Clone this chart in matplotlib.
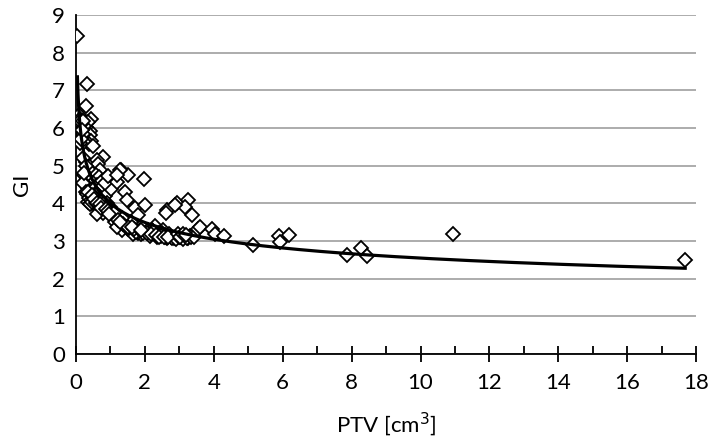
import numpy as np
import matplotlib
matplotlib.use("Agg")
from matplotlib import pyplot as plt
from matplotlib.ticker import MultipleLocator

# PTV [cm3] vs GI
ptv = [0.045, 0.32, 0.29, 0.44, 0.09, 0.41, 0.79, 0.12, 0.13,
       0.15, 0.20, 0.25, 0.30, 0.35, 0.22, 0.28, 0.18, 0.12, 0.33, 0.40, 0.45, 0.38, 0.25, 0.50, 0.14,
       0.10, 0.11, 0.13, 0.16, 0.19, 0.11, 0.14, 0.17, 0.21, 0.24,
       0.30, 0.42, 0.55, 0.60, 0.65, 0.70, 0.35, 0.48, 0.58, 0.68, 0.25, 0.32, 0.40, 0.50, 0.62, 0.75,
       0.28, 0.36, 0.45, 0.55, 0.66, 0.22, 0.80,
       0.30, 0.40, 0.50, 0.60, 0.70, 0.85, 0.35, 0.45, 0.55, 0.65, 0.75, 0.90, 0.95, 0.80, 0.60, 0.41, 1.00,
       0.15, 0.12, 0.14, 0.22, 0.28, 0.25, 0.20, 0.17,
       0.32, 0.38, 0.44, 0.48, 0.52, 0.57, 0.63, 0.67, 0.72, 0.78, 0.82, 0.88, 0.36, 0.46, 0.54, 0.61,
       0.69, 0.74, 0.86, 0.92,
       1.05, 1.10, 1.20, 1.15, 1.30, 1.25, 1.40, 1.35, 1.50, 1.18, 1.60, 1.70, 1.65, 1.80, 1.90,
       1.03, 1.42, 1.47, 1.71, 1.81, 1.57, 1.81, 2.10, 2.29, 2.53, 2.58, 2.00, 0.84, 1.18, 0.94,
       1.32, 1.52, 1.97, 1.28, 1.18, 2.20, 2.40, 2.70,
       1.55, 1.75, 1.95, 2.15, 2.35, 2.45, 2.65, 2.75, 2.85, 3.05, 3.15, 3.25, 3.30, 2.50, 2.25,
       1.45, 1.60, 1.35, 1.10, 0.95,
       1.22, 1.38, 1.52, 1.68, 1.85, 2.05, 2.18, 2.32, 2.48, 2.60, 1.28, 1.62, 1.88, 2.42, 2.56,
       2.78, 2.90, 3.00, 3.12, 3.22, 3.35, 2.68, 3.42,
       2.92, 2.63, 3.26, 3.16, 3.36, 2.97, 3.02, 3.55, 2.61, 2.87, 3.10, 3.20, 3.60, 3.94, 4.04, 4.30,
       5.15, 5.90, 5.92, 6.19, 7.86, 8.27, 8.44, 10.95, 17.68]
gi = [8.44, 7.17, 6.58, 6.24, 6.34, 5.92, 5.22, 5.95, 5.65,
      6.17, 6.07, 6.12, 6.02, 6.17, 5.92, 5.82, 5.77, 5.87, 5.72, 5.82, 5.67, 5.57, 5.62, 5.52, 6.02,
      6.10, 5.90, 6.25, 6.05, 5.95, 5.60, 5.95, 6.20, 5.85, 6.05,
      5.10, 5.00, 4.95, 5.15, 5.05, 4.90, 4.85, 4.80, 4.75, 4.70, 4.75, 4.65, 4.60, 4.55, 4.50, 4.60,
      4.50, 4.40, 4.35, 4.40, 4.35, 4.55, 4.45,
      4.30, 4.20, 4.15, 4.25, 4.10, 4.20, 4.05, 4.00, 3.95, 3.90, 3.85, 4.00, 3.80, 3.75, 3.72, 3.98, 3.90,
      6.10, 6.20, 5.70, 5.20, 5.00, 4.80, 6.20, 5.95,
      4.25, 4.15, 4.10, 4.05, 4.20, 4.00, 4.10, 3.95, 4.05, 3.92, 4.00, 3.90, 4.30, 4.22, 4.12, 4.02,
      3.98, 3.88, 3.85, 3.80,
      3.70, 3.60, 3.62, 3.50, 3.52, 3.40, 3.42, 3.30, 3.32, 3.37, 3.38, 3.28, 3.20, 3.22, 3.18,
      4.37, 4.31, 4.09, 3.87, 3.69, 3.45, 3.25, 3.28, 3.40, 3.30, 3.15, 3.95, 4.53, 4.58, 4.72,
      4.90, 4.75, 4.64, 4.88, 4.75, 3.30, 3.22, 3.18,
      3.35, 3.25, 3.22, 3.14, 3.11, 3.16, 3.08, 3.11, 3.08, 3.10, 3.11, 3.08, 3.14, 3.21, 3.26,
      3.40, 3.50, 3.60, 3.75, 3.72,
      3.55, 3.45, 3.38, 3.32, 3.28, 3.21, 3.18, 3.16, 3.14, 3.11, 3.50, 3.36, 3.30, 3.12, 3.10,
      3.08, 3.06, 3.10, 3.06, 3.08, 3.11, 3.12, 3.10,
      4.00, 3.82, 4.10, 3.91, 3.69, 3.20, 3.12, 3.33, 3.74, 3.96, 3.18, 3.15, 3.36, 3.33, 3.20, 3.14,
      2.89, 3.14, 2.98, 3.17, 2.63, 2.81, 2.60, 3.20, 2.50]

x = np.array(ptv)
y = np.array(gi)

# power trendline fitted to the points (y = a * x^b), like Excel does it
b, ln_a = np.polyfit(np.log(x), np.log(y), 1)
xf = np.geomspace(x.min(), x.max(), 400)
yf = np.exp(ln_a) * xf ** b

plt.rcParams['font.family'] = ['Lato', 'DejaVu Sans']

fig = plt.figure(figsize=(7.09, 4.45), dpi=100)
ax = fig.add_axes([0.107, 0.2045, 0.875, 0.7615])

ax.plot(x, y, linestyle='none', marker='D', markersize=7.5, markerfacecolor='white',
        markeredgecolor='black', markeredgewidth=1.3, zorder=3)
ax.plot(xf, yf, color='black', linewidth=2.3, zorder=4)

ax.set_xlim(0, 18)
ax.set_ylim(0, 9)
ax.xaxis.set_major_locator(MultipleLocator(2))
ax.xaxis.set_minor_locator(MultipleLocator(1))
ax.yaxis.set_major_locator(MultipleLocator(1))
ax.grid(axis='y', color='#a6a6a6', linewidth=1.3)
ax.set_axisbelow(True)
for s in ['top', 'right']:
    ax.spines[s].set_visible(False)
for s in ['left', 'bottom']:
    ax.spines[s].set_linewidth(1.3)
ax.tick_params(axis='x', which='major', direction='inout', length=12, width=1.3,
               labelsize=16, pad=8)
ax.tick_params(axis='x', which='minor', direction='in', length=6, width=1.3)
ax.tick_params(axis='y', length=0, labelsize=16, pad=8)

ax.set_xlabel('PTV [cm$^3$]', fontsize=16, labelpad=12)
ax.set_ylabel('GI', fontsize=16, labelpad=14)

fig.savefig('out.png', dpi=100)
